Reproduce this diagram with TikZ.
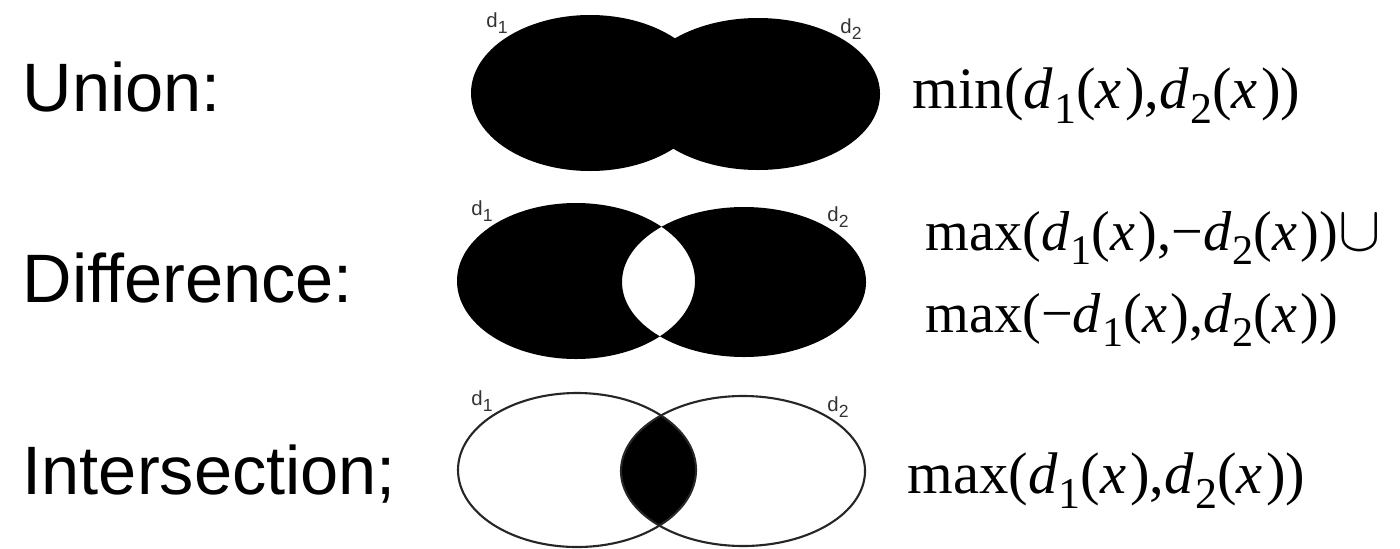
\documentclass[tikz,border=0pt]{standalone}
\usepackage{fontspec}
\usepackage{graphicx}
\setmainfont{Liberation Serif}
\setsansfont{Liberation Sans}
\newcommand{\lo}[1]{\raisebox{-0.26em}{\fontsize{0.75em}{1em}\selectfont #1}}
\newcommand{\dd}[1]{\textit{d}\kern0.02em\lo{#1}}
\newcommand{\xx}{(\textit{x}\kern0.06em)}
\newcommand{\dlab}[1]{d\raisebox{-1.6pt}{\fontsize{5pt}{5pt}\selectfont #1}}

\begin{document}
\begin{tikzpicture}[x=0.1mm, y=-0.1mm,
  lbl/.style={anchor=base west, inner sep=0pt, font=\sffamily\fontsize{19.5pt}{22pt}\selectfont},
  fml/.style={anchor=base west, inner sep=0pt, font=\fontsize{16.7pt}{20pt}\selectfont},
  dn/.style={inner sep=0pt, text=black!80, font=\sffamily\fontsize{5.8pt}{6pt}\selectfont},
  ring/.style={draw=black!85, line width=0.6pt}]
\useasboundingbox (0,0) rectangle (1400,548);
\def\ra{119} \def\rb{122}

% union
\fill (590,93) ellipse [x radius=\ra, y radius=78];
\fill (758,94) ellipse [x radius=\rb, y radius=76];
\node[dn] (u1) at (497,23) {\dlab{1}};
\node[dn] (u2) at (851,29) {\dlab{2}};
\node[lbl] (union) at (22,111) {Union:};
\node[fml] (funion) at (912,108) {min(\dd{1}\xx,\dd{2}\xx)};

% difference
\fill[even odd rule] (576,281) ellipse [x radius=\ra, y radius=78]
  (744,282) ellipse [x radius=\rb, y radius=75];
\node[dn] (m1) at (482,211) {\dlab{1}};
\node[dn] (m2) at (838,217) {\dlab{2}};
\node[lbl] (diff) at (22,302) {Difference:};
\node[fml, font=\fontsize{16pt}{20pt}\selectfont] (fdiff1) at (925,250)
  {max(\dd{1}\xx,−\dd{2}\xx)\scalebox{1.05}{$\cup$}};
\node[fml, font=\fontsize{16pt}{20pt}\selectfont] (fdiff2) at (925,332)
  {max(−\dd{1}\xx,\dd{2}\xx)};

% intersection
\begin{scope}
  \clip (577,470) ellipse [x radius=\ra, y radius=77];
  \fill (743,471) ellipse [x radius=\rb, y radius=75];
\end{scope}
\draw[ring] (577,470) ellipse [x radius=\ra, y radius=77];
\draw[ring] (743,471) ellipse [x radius=\rb, y radius=75];
\node[dn] (i1) at (482,401) {\dlab{1}};
\node[dn] (i2) at (838,407) {\dlab{2}};
\node[lbl] (inter) at (22,494) {Intersection;};
\node[fml] (finter) at (907,493) {max(\dd{1}\xx,\dd{2}\xx)};
\end{tikzpicture}
\end{document}
